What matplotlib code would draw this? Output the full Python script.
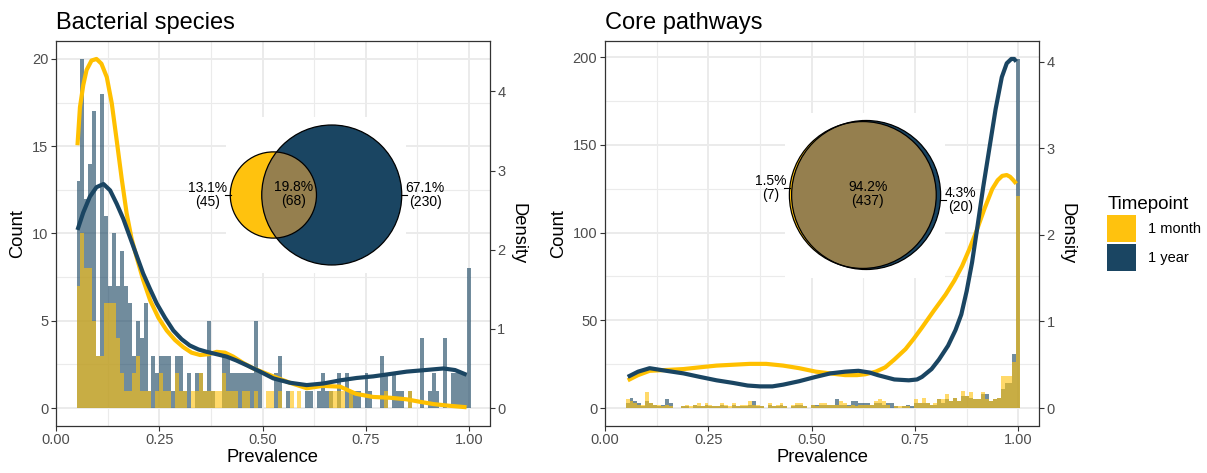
import numpy as np
import matplotlib
matplotlib.use('Agg')
import matplotlib.pyplot as plt
from matplotlib.patches import Circle, Rectangle, Patch
from matplotlib.ticker import MultipleLocator, FormatStrFormatter

plt.rcParams['font.family'] = ['Liberation Sans', 'DejaVu Sans']

timepoints = ['1 month', '1 year']
month_color = '#FFC20E'
year_color = '#1A4562'
overlap_color = '#957F4E'

# histogram bins (prevalence), 100 bins
prevalence_bins = np.linspace(0.0545, 1.0, 100)

species_month = [
    7, 10, 8, 8, 5, 3, 3, 6, 6, 6, 4, 2, 1, 1, 2, 3, 1, 1, 1, 0,
    1, 2, 1, 1, 0, 2, 1, 1, 0, 1, 1, 2, 1, 1, 1, 1, 1, 2, 1, 1,
    1, 0, 1, 1, 0, 1, 0, 0, 1, 1, 0, 1, 0, 0, 1, 0, 1, 0, 0, 0,
    0, 0, 0, 0, 1, 1, 1, 1, 0, 1, 0, 0, 0, 0, 0, 0, 0, 0, 1, 0,
    0, 0, 0, 0, 1, 0, 0, 0, 0, 0, 0, 0, 0, 0, 0, 0, 0, 0, 0, 0]
species_year = [
    13, 20, 12, 14, 17, 3, 18, 11, 7, 10, 7, 9, 7, 6, 3, 5, 4, 6, 1, 3,
    2, 3, 3, 3, 1, 3, 3, 1, 2, 0, 2, 2, 1, 5, 1, 0, 0, 3, 3, 2,
    2, 2, 2, 2, 2, 5, 2, 0, 0, 0, 2, 3, 0, 1, 0, 0, 0, 0, 1, 1,
    0, 1, 2, 1, 1, 0, 2, 0, 2, 1, 1, 1, 0, 2, 1, 0, 0, 3, 2, 0,
    2, 1, 1, 0, 1, 0, 0, 4, 0, 1, 2, 1, 0, 4, 0, 2, 2, 2, 2, 8]

pathway_month = [
    5, 4, 3, 2, 2, 9, 3, 2, 2, 1, 2, 1, 0, 0, 1, 2, 1, 2, 3, 1,
    3, 2, 1, 1, 3, 2, 1, 3, 1, 2, 2, 4, 2, 2, 1, 0, 3, 1, 2, 3,
    1, 0, 2, 3, 3, 1, 0, 2, 1, 3, 3, 2, 2, 2, 4, 3, 1, 2, 1, 2,
    2, 2, 2, 4, 5, 4, 2, 0, 1, 1, 1, 1, 0, 5, 3, 6, 3, 2, 3, 5,
    5, 8, 4, 6, 4, 10, 7, 9, 5, 5, 9, 5, 4, 5, 6, 18, 18, 18, 26, 121]
pathway_year = [
    3, 6, 4, 3, 1, 4, 3, 2, 1, 2, 5, 3, 0, 0, 1, 1, 0, 2, 1, 1,
    2, 1, 1, 1, 2, 1, 0, 2, 1, 1, 1, 2, 4, 1, 1, 0, 2, 1, 1, 2,
    1, 0, 1, 2, 2, 1, 0, 2, 2, 2, 2, 2, 2, 5, 2, 2, 2, 4, 4, 3,
    3, 3, 2, 3, 3, 2, 3, 3, 1, 0, 1, 2, 1, 3, 3, 3, 3, 2, 2, 5,
    3, 5, 4, 6, 4, 7, 7, 6, 5, 5, 8, 8, 4, 5, 6, 11, 14, 14, 31, 199]

# density curves
species_month_dens_x = [
    0.052, 0.058, 0.066, 0.074, 0.086, 0.098, 0.110, 0.123, 0.135, 0.147,
    0.159, 0.171, 0.183, 0.195, 0.211, 0.228, 0.248, 0.268, 0.288, 0.308,
    0.328, 0.349, 0.369, 0.389, 0.409, 0.429, 0.453, 0.478, 0.502, 0.526,
    0.566, 0.607, 0.646, 0.688, 0.726, 0.768, 0.809, 0.849, 0.880, 0.914,
    0.950, 0.994]
species_month_dens = [
    3.32, 3.80, 4.08, 4.27, 4.39, 4.41, 4.35, 4.18, 3.85, 3.38,
    2.90, 2.46, 2.14, 1.91, 1.62, 1.36, 1.14, 0.98, 0.86, 0.77,
    0.70, 0.67, 0.68, 0.71, 0.70, 0.65, 0.57, 0.50, 0.45, 0.40,
    0.32, 0.25, 0.28, 0.27, 0.18, 0.14, 0.13, 0.11, 0.08, 0.05,
    0.03, 0.01]
species_year_dens_x = [
    0.052, 0.066, 0.082, 0.098, 0.115, 0.131, 0.147, 0.163, 0.179, 0.195,
    0.211, 0.228, 0.244, 0.264, 0.284, 0.304, 0.324, 0.345, 0.365, 0.389,
    0.413, 0.437, 0.462, 0.494, 0.526, 0.566, 0.607, 0.647, 0.688, 0.728,
    0.768, 0.809, 0.849, 0.894, 0.938, 0.966, 0.994]
species_year_dens = [
    2.25, 2.47, 2.67, 2.79, 2.83, 2.75, 2.58, 2.39, 2.16, 1.93,
    1.70, 1.50, 1.32, 1.14, 0.98, 0.87, 0.79, 0.74, 0.71, 0.68,
    0.65, 0.60, 0.54, 0.46, 0.375, 0.32, 0.29, 0.31, 0.35, 0.38,
    0.40, 0.43, 0.46, 0.48, 0.50, 0.48, 0.42]

pathway_month_dens_x = [
    0.055, 0.08, 0.108, 0.15, 0.19, 0.229, 0.27, 0.31, 0.35, 0.39,
    0.431, 0.47, 0.51, 0.545, 0.581, 0.61, 0.63, 0.655, 0.678, 0.70,
    0.727, 0.747, 0.767, 0.795, 0.824, 0.845, 0.864, 0.882, 0.90, 0.918,
    0.937, 0.95, 0.961, 0.972, 0.98, 0.988, 0.995]
pathway_month_dens = [
    0.32, 0.38, 0.43, 0.44, 0.45, 0.47, 0.49, 0.50, 0.51, 0.51,
    0.49, 0.46, 0.42, 0.40, 0.38, 0.38, 0.39, 0.42, 0.47, 0.56,
    0.68, 0.80, 0.93, 1.12, 1.31, 1.47, 1.64, 1.84, 2.06, 2.30,
    2.53, 2.63, 2.68, 2.69, 2.67, 2.63, 2.59]
pathway_year_dens_x = [
    0.055, 0.08, 0.108, 0.148, 0.19, 0.229, 0.27, 0.31, 0.345, 0.375,
    0.405, 0.431, 0.47, 0.51, 0.545, 0.581, 0.613, 0.64, 0.66, 0.70,
    0.735, 0.755, 0.767, 0.79, 0.808, 0.83, 0.848, 0.862, 0.875, 0.888,
    0.90, 0.915, 0.93, 0.945, 0.96, 0.972, 0.983, 0.99, 0.995]
pathway_year_dens = [
    0.36, 0.42, 0.46, 0.43, 0.40, 0.36, 0.32, 0.29, 0.26, 0.25,
    0.25, 0.27, 0.31, 0.36, 0.40, 0.42, 0.43, 0.41, 0.38, 0.33,
    0.32, 0.33, 0.36, 0.45, 0.56, 0.72, 0.90, 1.08, 1.35, 1.68,
    2.06, 2.55, 3.00, 3.45, 3.82, 3.98, 4.03, 4.03, 4.00]

# venn counts: 1 month only, shared, 1 year only
species_venn = [45, 68, 230]
pathway_venn = [7, 437, 20]


def style_axes(ax, ax2, count_step):
    ax.set_facecolor('white')
    for s in ax.spines.values():
        s.set_color('#333333')
        s.set_linewidth(0.9)
    for s in ax2.spines.values():
        s.set_visible(False)
    ax.xaxis.set_major_locator(MultipleLocator(0.25))
    ax.xaxis.set_minor_locator(MultipleLocator(0.125))
    ax.xaxis.set_major_formatter(FormatStrFormatter('%.2f'))
    ax.yaxis.set_major_locator(MultipleLocator(count_step))
    ax.yaxis.set_minor_locator(MultipleLocator(count_step / 2))
    ax.grid(which='major', color='#EBEBEB', linewidth=1.4)
    ax.grid(which='minor', color='#EBEBEB', linewidth=0.8)
    ax.set_axisbelow(True)
    for a in (ax, ax2):
        a.tick_params(which='major', length=3.5, width=0.8, color='#333333',
                      labelsize=10.5, labelcolor='#4D4D4D', pad=2)
        a.tick_params(which='minor', length=0)
    ax2.yaxis.set_major_locator(MultipleLocator(1))


def plot_panel(ax, title, month, year, month_dx, month_d, year_dx, year_d):
    width = prevalence_bins[1] - prevalence_bins[0]
    ax.bar(prevalence_bins, year, width=width, color=year_color,
           alpha=0.62, linewidth=0)
    ax.bar(prevalence_bins, month, width=width, color=month_color,
           alpha=0.62, linewidth=0)

    top = max(max(month), max(year))
    ax.set_ylim(-0.05 * top, 1.05 * top)
    ax.set_xlim(0, 1.05)

    ax2 = ax.twinx()
    ax2.plot(month_dx, month_d, color='#FFC000', linewidth=3.0,
             solid_capstyle='butt', solid_joinstyle='round')
    ax2.plot(year_dx, year_d, color=year_color, linewidth=3.0,
             solid_capstyle='butt', solid_joinstyle='round')
    factor = top / max(max(month_d), max(year_d))
    ax2.set_ylim(-0.05 * top / factor, 1.05 * top / factor)

    ax.set_title(title, loc='left', fontsize=17, pad=9)
    ax.set_xlabel('Prevalence', fontsize=13.2, labelpad=1)
    ax.set_ylabel('Count', fontsize=13.2, labelpad=4)
    ax2.set_ylabel('Density', fontsize=13.2, rotation=270, labelpad=15)
    style_axes(ax, ax2, 5 if top < 50 else 50)
    return ax2


def lens_area(r1, r2, d):
    if d >= r1 + r2:
        return 0.0
    if d <= abs(r1 - r2):
        return np.pi * min(r1, r2) ** 2
    a1 = r1 ** 2 * np.arccos((d ** 2 + r1 ** 2 - r2 ** 2) / (2 * d * r1))
    a2 = r2 ** 2 * np.arccos((d ** 2 + r2 ** 2 - r1 ** 2) / (2 * d * r2))
    a3 = 0.5 * np.sqrt((-d + r1 + r2) * (d + r1 - r2) *
                       (d - r1 + r2) * (d + r1 + r2))
    return a1 + a2 - a3


def draw_venn(ov, counts, cx, cy, r_big, label_dy):
    only_a, both, only_b = counts
    total = sum(counts)
    n_a, n_b = only_a + both, only_b + both
    unit = r_big / np.sqrt(max(n_a, n_b))
    r1, r2 = unit * np.sqrt(n_a), unit * np.sqrt(n_b)
    target = both * np.pi * unit ** 2
    lo, hi = abs(r1 - r2) + 1e-6, r1 + r2
    for _ in range(80):
        mid = (lo + hi) / 2
        if lens_area(r1, r2, mid) > target:
            lo = mid
        else:
            hi = mid
    d = (lo + hi) / 2
    left = min(-r1, d - r2)
    right = max(r1, d + r2)
    x1 = cx - (left + right) / 2
    x2 = x1 + d
    x_left, x_right = x1 + left, x1 + right

    ov.add_patch(Rectangle((x_left - 4, cy - r_big - 8),
                           x_right - x_left + 8, 2 * r_big + 16,
                           facecolor='white', edgecolor='none'))
    ov.add_patch(Circle((x1, cy), r1, facecolor=month_color, edgecolor='none'))
    ov.add_patch(Circle((x2, cy), r2, facecolor=year_color, edgecolor='none'))
    lens = Circle((x1, cy), r1, facecolor=overlap_color, edgecolor='none')
    ov.add_patch(lens)
    clip = Circle((x2, cy), r2, transform=ov.transData)
    lens.set_clip_path(clip)
    for x, r in ((x1, r1), (x2, r2)):
        ov.add_patch(Circle((x, cy), r, facecolor='none',
                            edgecolor='black', linewidth=0.9))

    pct = [f'{100 * c / total:.1f}%\n({c})' for c in counts]
    y_a = cy + label_dy[0]
    y_b = cy + label_dy[1]
    ov.plot([x_left - 5, x_left + 1], [y_a, y_a], color='black', lw=0.8)
    ov.text(x_left - 3, y_a, pct[0], ha='right', va='center',
            multialignment='center', fontsize=10, linespacing=1.0)
    ov.text((x2 - r2 + x1 + r1) / 2 + 4, cy - 1, pct[1], ha='center',
            va='center', multialignment='center', fontsize=10,
            linespacing=1.0)
    ov.plot([x_right - 1, x_right + 5], [y_b, y_b], color='black', lw=0.8)
    ov.text(x_right + 4, y_b, pct[2], ha='left', va='center',
            multialignment='center', fontsize=10, linespacing=1.0)


fig = plt.figure(figsize=(12.07, 4.73), dpi=100)
W, H = 1207, 473
ax_l = fig.add_axes([56 / W, 1 - 425.5 / H, 433.7 / W, 384 / H])
ax_r = fig.add_axes([605 / W, 1 - 425.5 / H, 434 / W, 384 / H])

plot_panel(ax_l, 'Bacterial species', species_month, species_year,
           species_month_dens_x, species_month_dens,
           species_year_dens_x, species_year_dens)
plot_panel(ax_r, 'Core pathways', pathway_month, pathway_year,
           pathway_month_dens_x, pathway_month_dens,
           pathway_year_dens_x, pathway_year_dens)

ov = fig.add_axes([0, 0, 1, 1], zorder=10)
ov.set_xlim(0, W)
ov.set_ylim(H, 0)
ov.axis('off')
ov.patch.set_alpha(0)
draw_venn(ov, species_venn, 316, 195, 70, (0, 0))
draw_venn(ov, pathway_venn, 865, 195, 74.5, (-7, 5))

handles = [Patch(facecolor=c, edgecolor='none')
           for c in (month_color, year_color)]
fig.legend(handles, timepoints, title='Timepoint', loc='upper left',
           bbox_to_anchor=(1094 / W, 1 - 183 / H), frameon=False,
           fontsize=10.5, title_fontsize=13.5, handlelength=2.0,
           handleheight=2.5, handletextpad=0.8, labelspacing=0.12,
           alignment='left')

fig.savefig('out.png', dpi=100)
